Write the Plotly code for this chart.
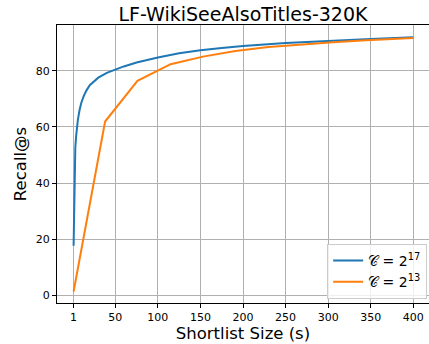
import plotly.graph_objects as go

title = "LF-WikiSeeAlsoTitles-320K"

# C = 2^17 curve
blue_x = [1, 2, 3, 4, 5, 6, 8, 10, 13, 16, 20, 25, 30, 40, 50, 60, 75, 90, 100, 125, 150, 175, 200, 250, 300, 350, 400]
blue_y = [17.7, 44.0, 52.5, 56.8, 60.0, 62.5, 66.0, 68.5, 71.0, 72.9, 74.8, 76.3, 77.5, 79.2, 80.4, 81.5, 82.9, 84.0, 84.7, 86.2, 87.3, 88.1, 88.8, 89.8, 90.6, 91.3, 91.9]

# C = 2^13 curve
orange_x = [1, 38, 76, 115, 153, 191, 230, 268, 306, 345, 383, 400]
orange_y = [1.4, 61.9, 76.4, 82.3, 85.0, 87.0, 88.4, 89.3, 90.1, 90.8, 91.4, 91.6]

x_ticks = [1, 50, 100, 150, 200, 250, 300, 350, 400]
y_ticks = [0, 20, 40, 60, 80]

series_names = ["𝒞 = 2<sup>17</sup>", "𝒞 = 2<sup>13</sup>"]

W, H = 429, 344
fig = go.Figure()
fig.add_trace(go.Scatter(x=blue_x, y=blue_y, mode="lines", name=series_names[0],
                         line=dict(color="#1f77b4", width=2)))
fig.add_trace(go.Scatter(x=orange_x, y=orange_y, mode="lines", name=series_names[1],
                         line=dict(color="#ff7f0e", width=2)))

font = "DejaVu Sans, sans-serif"
fig.update_layout(
    width=W, height=H,
    margin=dict(l=57, r=0, t=25, b=41),
    paper_bgcolor="white", plot_bgcolor="white",
    font=dict(family=font, color="black"),
    title=dict(text=title, x=(57 + 429) / 2 / W, xanchor="center",
               y=1 - 14 / H, yanchor="middle", yref="container",
               font=dict(size=19, family=font, color="black")),
    showlegend=True,
    legend=dict(x=0.995, xanchor="right", y=0.015, yanchor="bottom",
                bgcolor="rgba(255,255,255,0.8)", bordercolor="#cccccc", borderwidth=1,
                font=dict(size=14, family=font), tracegroupgap=0, itemwidth=30),
)
fig.update_xaxes(
    range=[-18.5, 418.5], tickvals=x_ticks, ticktext=[str(v) for v in x_ticks],
    showgrid=True, gridcolor="#b0b0b0", gridwidth=1,
    showline=True, linecolor="black", linewidth=1, mirror=True,
    ticks="outside", ticklen=4, tickcolor="black", zeroline=False,
    tickfont=dict(size=11, family=font),
    title=dict(text="Shortlist Size (s)", font=dict(size=16.5, family=font), standoff=4),
)
fig.update_yaxes(
    range=[-2.7, 96.25], tickvals=y_ticks, ticktext=[str(v) for v in y_ticks],
    showgrid=True, gridcolor="#b0b0b0", gridwidth=1,
    showline=True, linecolor="black", linewidth=1, mirror=True,
    ticks="outside", ticklen=4, tickcolor="black", zeroline=False,
    tickfont=dict(size=11, family=font),
    title=dict(text="Recall@s", font=dict(size=16.5, family=font), standoff=5),
)
fig.write_html("out.html", config={"displayModeBar": False},
               post_script="document.body.style.margin='0';document.body.style.overflow='hidden';")
